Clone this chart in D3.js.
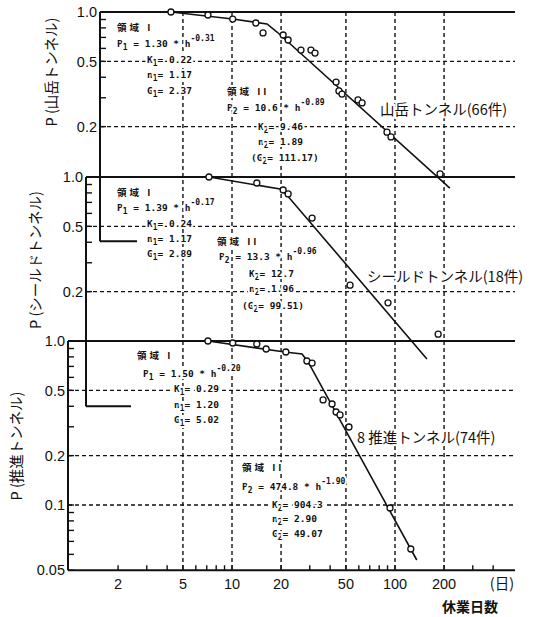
<!DOCTYPE html>
<html><head><meta charset="utf-8">
<script src="https://cdn.jsdelivr.net/npm/d3@7"></script>
<style>
body{margin:0;background:#fff}
.eq{font-family:"DejaVu Sans Mono","Noto Sans CJK JP",monospace;font-weight:bold;font-size:9.5px;fill:#111;stroke:#fff;stroke-width:4px;paint-order:stroke;stroke-linejoin:round}
.ttl{font-family:"Noto Sans CJK JP";font-weight:bold;font-size:10.5px;letter-spacing:3px}
.tick{font-family:"Liberation Sans",Arial,sans-serif;font-size:14.5px;fill:#111}
.jp{font-family:"Noto Sans CJK JP",sans-serif;fill:#111}
</style>
</head><body><svg id="c" width="543" height="617"></svg>
<script>
// ---------- data ----------
const xTickValues = [2, 5, 10, 20, 50, 100, 200];
const xTickLabels = ["2", "5", "10", "20", "50", "100", "200"];
const xGridValues = [5, 10, 20, 50, 100, 200];
const xMinorValues = [3, 4, 6, 7, 8, 9, 30, 40, 60, 70, 80, 90, 300, 400];
const yGridValues = [0.5, 0.2];
const yGridValuesBottom = [0.5, 0.2, 0.1];
const yTickValues = [1.0, 0.5, 0.2];
const yTickLabels = ["1.0", "0.5", "0.2"];
const yTickValuesBottom = [1.0, 0.5, 0.2, 0.1, 0.04];
const yTickLabelsBottom = ["1.0", "0.5", "0.2", "0.1", "0.05"];
const yMinorValues = [0.9, 0.8, 0.7, 0.6, 0.4, 0.3];
const yMinorValuesBottom = [0.09, 0.08, 0.07, 0.06, 0.05];
const yAxisEnd = 0.04;

const panelLabels = ["山岳トンネル(66件)", "シールドトンネル(18件)", "8 推進トンネル(74件)"];
const axisTitles = ["P (山岳トンネル)", "P (シールドトンネル)", "P (推進トンネル)"];
const xUnitLabel = "(日)";
const xTitle = "休業日数";

// 山岳トンネル
const mountainDays = [4.22, 7.12, 10.1, 14.0, 15.5, 20.6, 22.1, 26.5, 30.5, 32.3, 43.5, 45.3, 47.3, 59.3, 62.8, 89.3, 94.5, 189];
const mountainP    = [1.0, 0.959, 0.906, 0.857, 0.745, 0.724, 0.675, 0.586, 0.586, 0.562, 0.374, 0.330, 0.316, 0.291, 0.279, 0.185, 0.173, 0.103];
const mountainLineDays = [4.22, 10.1, 16.4, 18.9, 217];
const mountainLineP    = [1.0, 0.906, 0.845, 0.755, 0.0844];
// シールドトンネル
const shieldDays = [7.22, 14.2, 20.6, 22.1, 31.0, 53.0, 90.6, 184];
const shieldP    = [1.0, 0.919, 0.833, 0.788, 0.562, 0.219, 0.171, 0.110];
const shieldLineDays = [7.22, 19.7, 21.7, 157];
const shieldLineP    = [1.0, 0.845, 0.777, 0.0777];
// 推進トンネル
const jackingDays = [7.12, 10.1, 14.2, 16.2, 21.4, 28.8, 31.0, 36.2, 41.1, 43.5, 46.0, 52.2, 93.2, 125];
const jackingP    = [1.0, 0.972, 0.959, 0.894, 0.857, 0.755, 0.734, 0.437, 0.413, 0.369, 0.354, 0.299, 0.0959, 0.0539];
const jackingLineDays = [7.12, 21.1, 26.9, 29.3, 136];
const jackingLineP    = [1.0, 0.857, 0.833, 0.745, 0.0462];

// fitted parameters (text)
const coefA1 = ["1.30", "1.39", "1.50"];
const expo1  = ["-0.31", "-0.17", "-0.20"];
const valK1  = ["0.22", "0.24", "0.29"];
const valN1  = ["1.17", "1.17", "1.20"];
const valG1  = ["2.37", "2.89", "5.02"];
const coefA2 = ["10.6", "13.3", "474.8"];
const expo2  = ["-0.89", "-0.96", "-1.90"];
const valK2  = ["9.46", "12.7", "904.3"];
const valN2  = ["1.89", "1.96", "2.90"];
const valG2  = ["111.17", "99.51", "49.07"];
const g2Paren = [true, true, false];

// ---------- layout ----------
const svg = d3.select("#c");
const x = d3.scaleLog().domain([1, 1000]).range([69, 558]);
const panelTop = [12, 177, 341];
const axisLeft = [100, 86, 68];
const stubLen = [37, 45, 0];
const xRight = 515;
const ys = panelTop.map(t => d3.scaleLog().domain([1, 0.1]).range([t, t + 164]));
const yb = ys[2];
const ink = "#111";

const gGrid = svg.append("g");
const gAxes = svg.append("g");
const gText = svg.append("g");
const gData = svg.append("g");

// vertical dashed gridlines
gGrid.selectAll("line.v").data(xGridValues).join("line")
  .attr("x1", d => x(d)).attr("x2", d => x(d))
  .attr("y1", ys[0](1)).attr("y2", yb(yAxisEnd))
  .attr("stroke", ink).attr("stroke-width", 1.4).attr("stroke-dasharray", "4,3");

const titleX = [52, 36, 17];
const titleY = [72, 260, 446];

panelTop.forEach((t, i) => {
  const y = ys[i];
  const L = axisLeft[i];
  const gv = i === 2 ? yGridValuesBottom : yGridValues;
  gGrid.selectAll(null).data(gv).join("line")
    .attr("x1", L).attr("x2", xRight).attr("y1", d => y(d)).attr("y2", d => y(d))
    .attr("stroke", ink).attr("stroke-width", 1.4).attr("stroke-dasharray", "4,3");
  // solid 1.0 line
  gAxes.append("line").attr("x1", L).attr("x2", xRight).attr("y1", y(1)).attr("y2", y(1))
    .attr("stroke", ink).attr("stroke-width", 1.8);
  // left axis
  gAxes.append("line").attr("x1", L).attr("x2", L).attr("y1", y(1)).attr("y2", y(yAxisEnd))
    .attr("stroke", ink).attr("stroke-width", 2);
  // stub of bottom axis
  if (stubLen[i] > 0) {
    gAxes.append("line").attr("x1", L).attr("x2", L + stubLen[i]).attr("y1", y(yAxisEnd)).attr("y2", y(yAxisEnd))
      .attr("stroke", ink).attr("stroke-width", 1.8);
  }
  const minors = i === 2 ? yMinorValues.concat(yMinorValuesBottom) : yMinorValues;
  gAxes.selectAll(null).data(minors).join("line")
    .attr("x1", L).attr("x2", L + 6).attr("y1", d => y(d)).attr("y2", d => y(d))
    .attr("stroke", ink).attr("stroke-width", 1.4);
  gAxes.selectAll(null).data(i === 2 ? yTickValuesBottom : yTickValues).join("line")
    .attr("x1", L).attr("x2", L + 6).attr("y1", d => y(d)).attr("y2", d => y(d))
    .attr("stroke", ink).attr("stroke-width", 1.4);
  const tv = i === 2 ? yTickValuesBottom : yTickValues;
  const tl = i === 2 ? yTickLabelsBottom : yTickLabels;
  gAxes.selectAll(null).data(tv).join("text").attr("class", "tick")
    .attr("x", L - 3).attr("y", d => y(d)).attr("dy", "0.36em")
    .attr("text-anchor", "end").text((d, k) => tl[k]);
  // axis title
  gAxes.append("text").attr("class", "jp").attr("font-size", 14.5)
    .attr("transform", `translate(${titleX[i]},${titleY[i]}) rotate(-90)`)
    .attr("text-anchor", "middle").attr("dy", "0.35em").text(axisTitles[i]);
});

// bottom x axis
const yBase = yb(yAxisEnd);
gAxes.append("line").attr("x1", axisLeft[2]).attr("x2", xRight).attr("y1", yBase).attr("y2", yBase)
  .attr("stroke", ink).attr("stroke-width", 2);
gAxes.selectAll(null).data(xTickValues.concat(xMinorValues)).join("line")
  .attr("x1", d => x(d)).attr("x2", d => x(d)).attr("y1", yBase).attr("y2", yBase - 5)
  .attr("stroke", ink).attr("stroke-width", 1.4);
gAxes.selectAll(null).data(xTickValues).join("text").attr("class", "tick")
  .attr("x", d => x(d)).attr("y", yBase + 14).attr("dy", "0.36em")
  .attr("text-anchor", "middle").text((d, k) => xTickLabels[k]);
gAxes.append("text").attr("class", "jp").attr("font-size", 14.5)
  .attr("x", 502).attr("y", yBase + 14).attr("dy", "0.36em").attr("text-anchor", "middle").text(xUnitLabel);
gAxes.append("text").attr("class", "jp").attr("font-size", 14).attr("font-weight", "bold")
  .attr("x", 470).attr("y", 607).attr("dy", "0.36em").attr("text-anchor", "middle").text(xTitle);

// ---------- equation blocks ----------
function rich(g, px, py, parts) {
  const t = g.append("text").attr("class", "eq").attr("x", px).attr("y", py + 3.5);
  let cur = 0;
  parts.forEach(([s, k]) => {
    const target = k === "sub" ? 3.5 : k === "sup" ? -6 : 0;
    t.append("tspan").attr("dy", target - cur)
      .attr("font-size", k === "n" ? 9.5 : 8).text(s);
    cur = target;
  });
  return t;
}
const block1 = [
  {t: [117, 27], p: [117, 43], k: [147, 59], n: [147, 74], g: [147, 90]},
  {t: [117, 192], p: [117, 207], k: [147, 223], n: [147, 238], g: [147, 253]},
  {t: [137, 355], p: [143, 373], k: [174, 388], n: [174, 404], g: [174, 419]}
];
const block2 = [
  {t: [227, 91], p: [227, 107], k: [258, 126], n: [258, 141], g: [251, 157]},
  {t: [217, 241], p: [219, 256], k: [249, 273], n: [249, 288], g: [242, 305]},
  {t: [242, 467], p: [242, 486], k: [272, 504], n: [272, 518], g: [272, 533]}
];
panelTop.forEach((_, i) => {
  const b = block1[i];
  rich(gText, b.t[0], b.t[1], [["領域 I", "n"]]).attr("class", "eq ttl");
  rich(gText, b.p[0], b.p[1], [["P", "n"], ["1", "sub"], [` = ${coefA1[i]} * h`, "n"], [expo1[i], "sup"]]);
  rich(gText, b.k[0], b.k[1], [["K", "n"], ["1", "sub"], [`= ${valK1[i]}`, "n"]]);
  rich(gText, b.n[0], b.n[1], [["n", "n"], ["1", "sub"], [`= ${valN1[i]}`, "n"]]);
  rich(gText, b.g[0], b.g[1], [["G", "n"], ["1", "sub"], [`= ${valG1[i]}`, "n"]]);
  const c = block2[i];
  const op = g2Paren[i] ? "(" : "", cp = g2Paren[i] ? ")" : "";
  rich(gText, c.t[0], c.t[1], [["領域 II", "n"]]).attr("class", "eq ttl");
  rich(gText, c.p[0], c.p[1], [["P", "n"], ["2", "sub"], [` = ${coefA2[i]} * h`, "n"], [expo2[i], "sup"]]);
  rich(gText, c.k[0], c.k[1], [["K", "n"], ["2", "sub"], [`= ${valK2[i]}`, "n"]]);
  rich(gText, c.n[0], c.n[1], [["n", "n"], ["2", "sub"], [`= ${valN2[i]}`, "n"]]);
  rich(gText, c.g[0], c.g[1], [[op + "G", "n"], ["2", "sub"], [`= ${valG2[i]}${cp}`, "n"]]);
});

// panel labels
const labelPos = [[380, 110], [367, 277], [357, 438]];
panelLabels.forEach((s, i) => {
  gText.append("text").attr("class", "jp").attr("font-size", 14.5)
    .attr("x", labelPos[i][0]).attr("y", labelPos[i][1]).attr("dy", "0.36em")
    .attr("stroke", "#fff").attr("stroke-width", 4).attr("paint-order", "stroke")
    .text(s);
});

// ---------- data lines and points ----------
const series = [
  {days: mountainDays, p: mountainP, ld: mountainLineDays, lp: mountainLineP},
  {days: shieldDays, p: shieldP, ld: shieldLineDays, lp: shieldLineP},
  {days: jackingDays, p: jackingP, ld: jackingLineDays, lp: jackingLineP}
];
series.forEach((s, i) => {
  const y = ys[i];
  const line = d3.line().x(d => x(d[0])).y(d => y(d[1]));
  gData.append("path").datum(s.ld.map((d, k) => [d, s.lp[k]]))
    .attr("d", line).attr("fill", "none").attr("stroke", ink).attr("stroke-width", 1.6);
  gData.selectAll(null).data(s.days.map((d, k) => [d, s.p[k]])).join("circle")
    .attr("cx", d => x(d[0])).attr("cy", d => y(d[1])).attr("r", 3)
    .attr("fill", "#fff").attr("stroke", ink).attr("stroke-width", 1.3);
});
</script>
</body></html>
